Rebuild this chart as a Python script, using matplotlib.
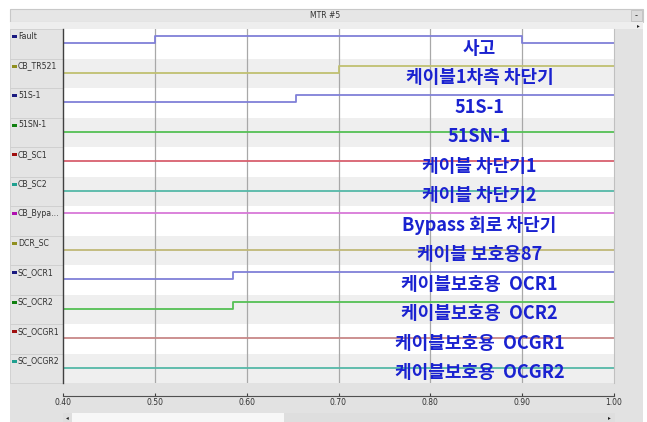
import matplotlib.pyplot as plt
from matplotlib.patches import Rectangle

plt.rcParams['font.family'] = ['Noto Sans CJK KR', 'DejaVu Sans']

# Digital channels of the MTR #5 record
channels = ['Fault', 'CB_TR521', '51S-1', '51SN-1', 'CB_SC1', 'CB_SC2',
            'CB_Bypa...', 'DCR_SC', 'SC_OCR1', 'SC_OCR2', 'SC_OCGR1', 'SC_OCGR2']

# State change times (s) and states (0 = off, 1 = on) for each channel
change_times = [
    [0.40, 0.50, 0.90, 1.00],
    [0.40, 0.70, 1.00],
    [0.40, 0.654, 1.00],
    [0.40, 1.00],
    [0.40, 1.00],
    [0.40, 1.00],
    [0.40, 1.00],
    [0.40, 1.00],
    [0.40, 0.585, 1.00],
    [0.40, 0.585, 1.00],
    [0.40, 1.00],
    [0.40, 1.00],
]
states = [
    [0, 1, 0, 0],
    [0, 1, 1],
    [0, 1, 1],
    [0, 0],
    [0, 0],
    [0, 0],
    [1, 1],
    [0, 0],
    [0, 1, 1],
    [0, 1, 1],
    [0, 0],
    [0, 0],
]

# Korean descriptions written over each channel
descriptions = ['사고', '케이블1차측 차단기', '51S-1', '51SN-1', '케이블 차단기1',
                '케이블 차단기2', 'Bypass 회로 차단기', '케이블 보호용87',
                '케이블보호용  OCR1', '케이블보호용  OCR2', '케이블보호용  OCGR1',
                '케이블보호용  OCGR2']

x_ticks = [0.40, 0.50, 0.60, 0.70, 0.80, 0.90, 1.00]

line_colors = ['#8080d8', '#c0c070', '#8080d8', '#55c055', '#d8606e', '#55b8a8',
               '#d878d8', '#c0b878', '#8080d8', '#55c055', '#c88888', '#55b8a8']
marker_colors = ['#1a1a80', '#909020', '#1a1a80', '#108010', '#a01010', '#20a090',
                 '#b010b0', '#909020', '#1a1a80', '#108010', '#a01010', '#20a090']

W, H = 647, 422
fig = plt.figure(figsize=(W / 100, H / 100), dpi=100)
fig.patch.set_facecolor('white')

# window frame drawn in pixel coordinates
bg = fig.add_axes([0, 0, 1, 1])
bg.set_xlim(0, W)
bg.set_ylim(H, 0)
bg.axis('off')
bg.add_patch(Rectangle((10, 9), 633, 413, fc='#e2e2e2', ec='none'))
bg.add_patch(Rectangle((10, 9), 633, 13, fc='#e6e6e6', ec='#c8c8c8', lw=0.8))
bg.add_patch(Rectangle((10, 22), 633, 7, fc='#eeeeee', ec='none'))
bg.text(325, 15.5, 'MTR #5', fontsize=5.5, color='#303030', ha='center', va='center',
        family='DejaVu Sans')
bg.add_patch(Rectangle((631, 10), 11, 11, fc='#dcdcdc', ec='#c0c0c0', lw=0.6))
bg.text(636.5, 15.5, '-', fontsize=6, ha='center', va='center', color='#202020',
        family='DejaVu Sans')
bg.text(638, 25.5, '▸', fontsize=4, ha='center', va='center', color='#202020',
        family='DejaVu Sans')

# label panel on the left
row_h = (383 - 29) / len(channels)
for i, (name, mc) in enumerate(zip(channels, marker_colors)):
    top = 29 + i * row_h
    bg.add_patch(Rectangle((10, top), 53, row_h, fc='#e4e4e4', ec='#cfcfcf', lw=0.6))
    bg.add_patch(Rectangle((11.5, top + 6), 5, 3, fc=mc, ec='none'))
    bg.text(18, top + 7.3, name, fontsize=5.6, color='#303030', va='center',
            family='DejaVu Sans')

# scrollbar along the bottom
bg.add_patch(Rectangle((63, 413), 552, 9, fc='#dedede', ec='none'))
bg.add_patch(Rectangle((72, 413), 212, 9, fc='#f7f7f7', ec='none'))
bg.text(67.5, 418, '◂', fontsize=4, ha='center', va='center', color='#202020',
        family='DejaVu Sans')
bg.text(609.5, 418, '▸', fontsize=4, ha='center', va='center', color='#202020',
        family='DejaVu Sans')

# main trace area
ax = fig.add_axes([63 / W, 1 - 383 / H, (614 - 63) / W, (383 - 29) / H])
ax.spines['bottom'].set_position(('outward', 9))
ax.set_xlim(0.40, 1.00)
ax.set_ylim(len(channels), 0)
ax.set_facecolor('white')

for i in range(len(channels)):
    if i % 2 == 1:
        ax.axhspan(i, i + 1, color='#efefef', lw=0, zorder=0)

for x in x_ticks[1:-1]:
    ax.axvline(x, color='#a8a8a8', lw=0.9, zorder=1)

for i, (t, s, c) in enumerate(zip(change_times, states, line_colors)):
    levels = [i + 0.49 - 0.25 * v for v in s]
    ax.step(t, levels, where='post', color=c, lw=1.3, zorder=2)
    ax.text(0.8535, i + 0.66, descriptions[i], color='#1a22d0', fontsize=13,
            fontweight='bold', ha='center', va='center', zorder=3)

ax.set_xticks(x_ticks)
ax.set_xticklabels([f'{v:.2f}' for v in x_ticks], family='DejaVu Sans')
ax.set_yticks([])
ax.tick_params(axis='x', direction='in', length=2, width=0.8, pad=2, color='#404040',
               labelsize=5.5, labelcolor='#303030')
ax.spines['bottom'].set_color('#505050')
ax.spines['bottom'].set_linewidth(0.8)
ax.spines['left'].set_color('#404040')
ax.spines['left'].set_linewidth(1.0)
ax.spines['top'].set_visible(False)
ax.spines['right'].set_color('#c0c0c0')

fig.savefig('out.png', dpi=100)
